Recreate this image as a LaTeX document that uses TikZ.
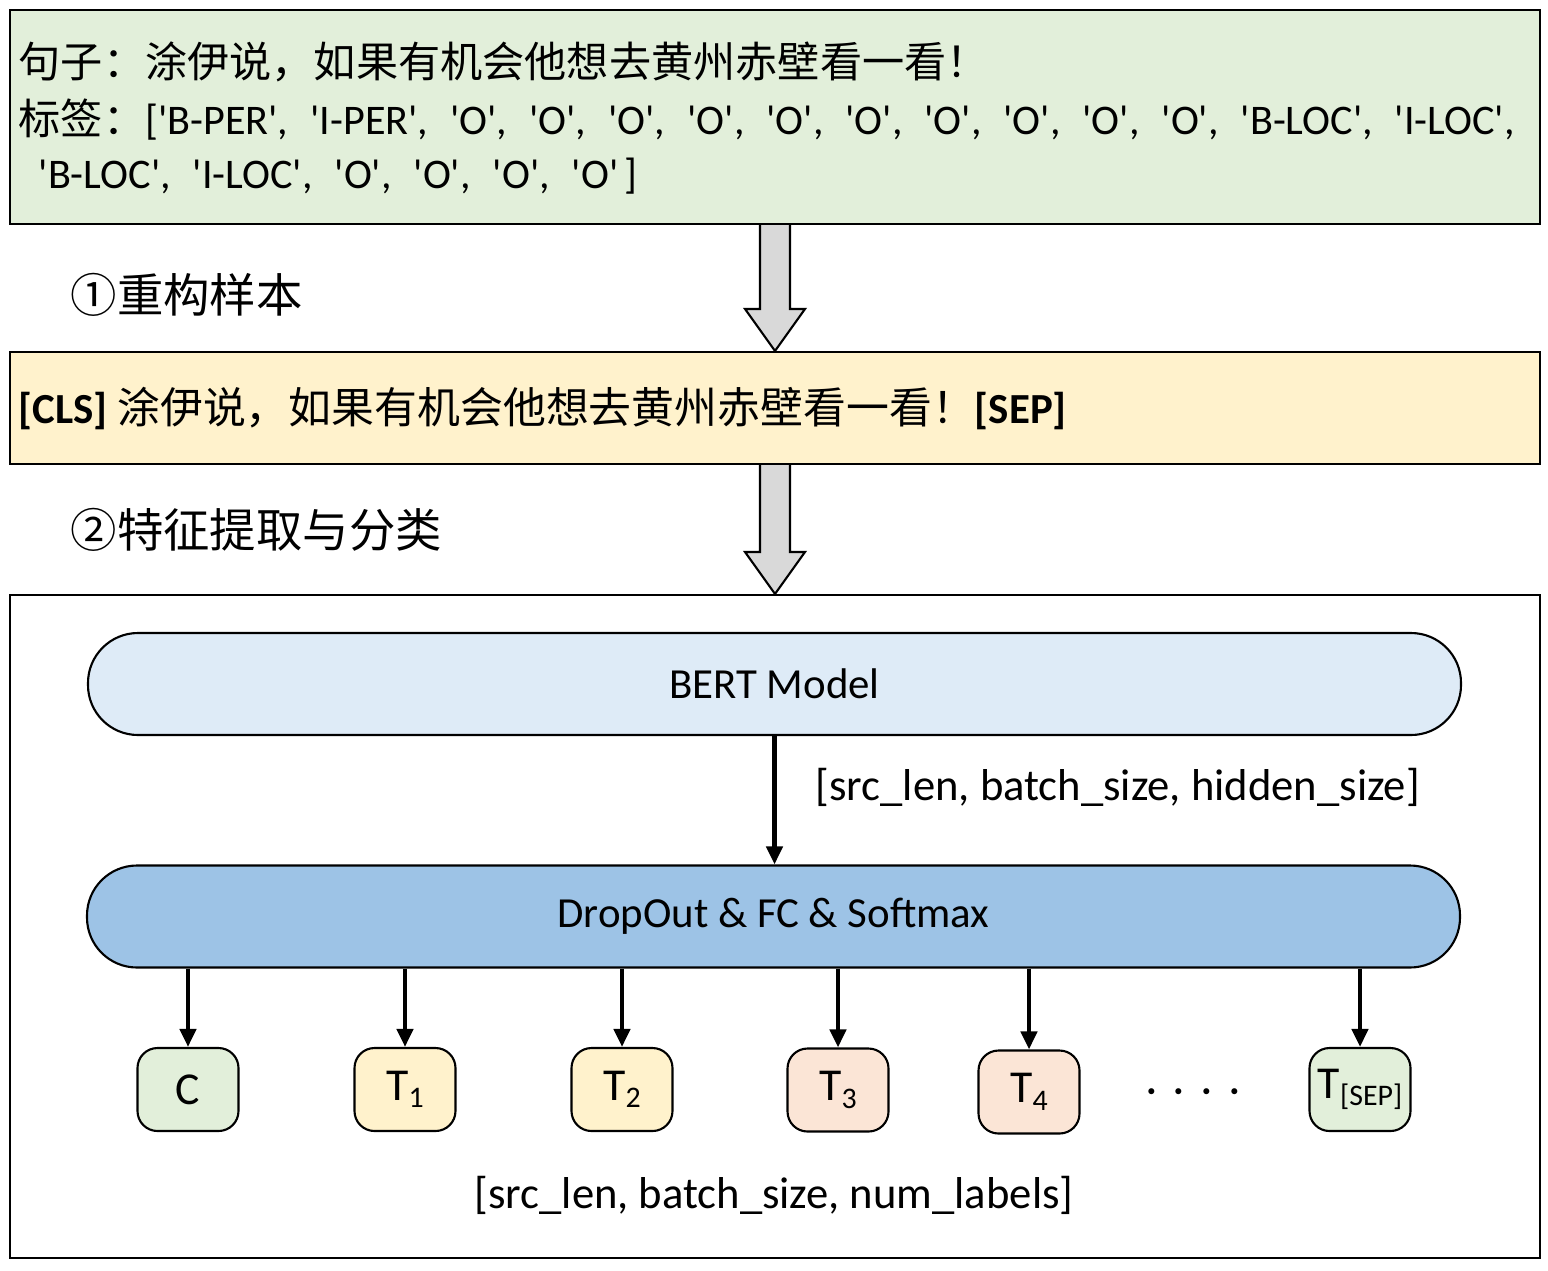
\documentclass[tikz,border=0pt]{standalone}
\usepackage{fontspec}
\setmainfont{Carlito}
\newfontfamily\cjk{Noto Sans CJK SC}
\usetikzlibrary{arrows.meta,calc}
\definecolor{boxgreen}{HTML}{E2EFDA}
\definecolor{boxyellow}{HTML}{FFF2CC}
\definecolor{boxorange}{HTML}{FBE5D6}
\definecolor{bertblue}{HTML}{DEEBF7}
\definecolor{headblue}{HTML}{9DC3E6}
\definecolor{arrowgray}{HTML}{D9D9D9}
\newcommand\tg[1]{\textquotesingle#1\textquotesingle}
\newcommand\lsep{,\hspace{0.52em}}
\newcommand\tsub[1]{\raisebox{-0.35ex}{\fontsize{8.5}{9}\selectfont#1}}
\newcommand\downblock[2]{\draw[fill=arrowgray, line width=0.6pt] let \p1=(#1.south), \p2=(#2.north) in
 (\x1-0.15cm,\y1) -- (\x1-0.15cm,\y2+0.42cm) -- (\x1-0.30cm,\y2+0.42cm) -- (\x1,\y2)
 -- (\x1+0.30cm,\y2+0.42cm) -- (\x1+0.15cm,\y2+0.42cm) -- (\x1+0.15cm,\y1);}

\begin{document}
\begin{tikzpicture}[
  wide/.style = {draw, line width=0.6pt, minimum width=15.30cm, inner sep=0pt},
  line/.style = {anchor=west, inner sep=0pt, font=\fontsize{12}{14}\selectfont},
  pill/.style = {draw, line width=0.6pt, rounded corners=0.5cm, minimum width=13.73cm, minimum height=1.02cm, font=\fontsize{12.2}{14}\selectfont},
  outbox/.style = {draw, line width=0.6pt, rounded corners=0.2cm, minimum width=1.01cm, minimum height=0.83cm, inner sep=0pt, font=\fontsize{13}{15}\selectfont},
  dim/.style = {inner sep=0pt, font=\fontsize{12.7}{15}\selectfont},
  conn/.style = {line width=1.2pt, -{Triangle[length=0.18cm, width=0.16cm]}}]
\useasboundingbox (0,0) rectangle (15.48,-12.70);

\node[wide, fill=boxgreen, minimum height=2.14cm] (sent) at (7.75,-1.17) {};
\node[line] (s1) at (0.18,-0.62) {\cjk 句子：涂伊说，如果有机会他想去黄州赤壁看一看！};
\node[line] (s2) at (0.18,-1.20) {{\cjk 标签：}[\tg{B-PER}\lsep\tg{I-PER}\lsep\tg{O}\lsep\tg{O}\lsep\tg{O}\lsep\tg{O}\lsep\tg{O}\lsep\tg{O}\lsep\tg{O}\lsep\tg{O}\lsep\tg{O}\lsep\tg{O}\lsep\tg{B-LOC}\lsep\tg{I-LOC},};
\node[line] (s3) at (0.38,-1.76) {\tg{B-LOC}\lsep\tg{I-LOC}\lsep\tg{O}\lsep\tg{O}\lsep\tg{O}\lsep\tg{O}\hspace{0.15em}]};

\node[wide, fill=boxyellow, minimum height=1.12cm] (recon) at (7.75,-4.08) {};
\node[line, font=\fontsize{12.2}{14}\selectfont] (r1) at (0.18,-4.08) {\textbf{[CLS]} {\cjk 涂伊说，如果有机会他想去黄州赤壁看一看！}\textbf{[SEP]}};

\node[wide, fill=white, minimum height=6.63cm] (model) at (7.75,-9.265) {};

\downblock{sent}{recon}
\downblock{recon}{model}
\node[line, font=\fontsize{13.2}{15}\selectfont] (step1) at (0.70,-2.95) {\cjk ①重构样本};
\node[line, font=\fontsize{13.2}{15}\selectfont] (step2) at (0.70,-5.30) {\cjk ②特征提取与分类};

\node[pill, fill=bertblue] (bert) at (7.745,-6.84) {BERT Model};
\node[pill, fill=headblue] (head) at (7.735,-9.165) {DropOut \& FC \& Softmax};
\draw[conn] (bert.south) -- (bert.south |- head.north);
\node[dim, anchor=west] (hdim) at (8.15,-7.87) {[src\_len, batch\_size, hidden\_size]};

\node[outbox, fill=boxgreen] (oc) at (1.88,-10.895) {C};
\node[outbox, fill=boxyellow] (o1) at (4.05,-10.895) {T\tsub{1}};
\node[outbox, fill=boxyellow] (o2) at (6.22,-10.895) {T\tsub{2}};
\node[outbox, fill=boxorange] (o3) at (8.38,-10.90) {T\tsub{3}};
\node[outbox, fill=boxorange] (o4) at (10.29,-10.92) {T\tsub{4}};
\node[inner sep=0pt, font=\fontsize{12}{14}\selectfont] (dots) at (11.93,-10.96) {·\hspace{0.17cm}·\hspace{0.17cm}·\hspace{0.17cm}·};
\node[outbox, fill=boxgreen] (osep) at (13.60,-10.895) {T\tsub{[SEP]}};
\foreach \o in {oc,o1,o2,o3,o4,osep}
  \draw[conn] (\o.north |- head.south) -- (\o.north);
\node[dim] (odim) at (7.74,-11.95) {[src\_len, batch\_size, num\_labels]};
\end{tikzpicture}
\end{document}
